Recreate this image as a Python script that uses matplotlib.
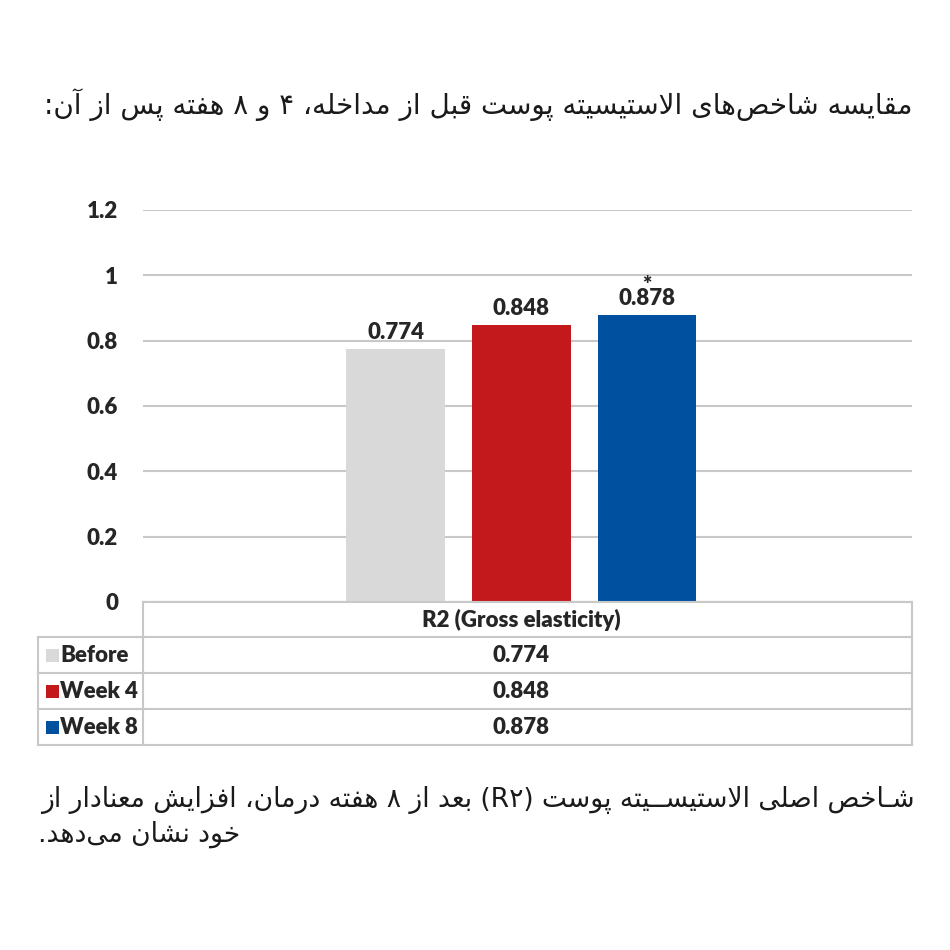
import re
import matplotlib
matplotlib.use("Agg")
import matplotlib.pyplot as plt
from matplotlib.patches import Rectangle
from matplotlib.transforms import blended_transform_factory

# data
metric = "R2 (Gross elasticity)"
groups = ["Before", "Week 4", "Week 8"]
values = [0.774, 0.848, 0.878]
marks = ["", "", "*"]
colors = ["#d9d9d9", "#c3191c", "#0050a0"]
yticks = [0, 0.2, 0.4, 0.6, 0.8, 1, 1.2]
ytick_labels = ["0", "0.2", "0.4", "0.6", "0.8", "1", "1.2"]

title = "مقایسه شاخص‌های الاستیسیته پوست قبل از مداخله، ۴ و ۸ هفته پس از آن:"
note_1 = "شـاخص اصلی الاستیســیته پوست (R۲) بعد از ۸ هفته درمان، افزایش معنادار از"
note_2 = "خود نشان می‌دهد."

# --- tiny arabic shaper: matplotlib has no shaping or bidi ---
DUAL = {
    "ب": (0xFE8F, 0xFE90, 0xFE91, 0xFE92), "ت": (0xFE95, 0xFE96, 0xFE97, 0xFE98),
    "ث": (0xFE99, 0xFE9A, 0xFE9B, 0xFE9C), "ج": (0xFE9D, 0xFE9E, 0xFE9F, 0xFEA0),
    "ح": (0xFEA1, 0xFEA2, 0xFEA3, 0xFEA4), "خ": (0xFEA5, 0xFEA6, 0xFEA7, 0xFEA8),
    "س": (0xFEB1, 0xFEB2, 0xFEB3, 0xFEB4), "ش": (0xFEB5, 0xFEB6, 0xFEB7, 0xFEB8),
    "ص": (0xFEB9, 0xFEBA, 0xFEBB, 0xFEBC), "ض": (0xFEBD, 0xFEBE, 0xFEBF, 0xFEC0),
    "ط": (0xFEC1, 0xFEC2, 0xFEC3, 0xFEC4), "ظ": (0xFEC5, 0xFEC6, 0xFEC7, 0xFEC8),
    "ع": (0xFEC9, 0xFECA, 0xFECB, 0xFECC), "غ": (0xFECD, 0xFECE, 0xFECF, 0xFED0),
    "ف": (0xFED1, 0xFED2, 0xFED3, 0xFED4), "ق": (0xFED5, 0xFED6, 0xFED7, 0xFED8),
    "ل": (0xFEDD, 0xFEDE, 0xFEDF, 0xFEE0), "م": (0xFEE1, 0xFEE2, 0xFEE3, 0xFEE4),
    "ن": (0xFEE5, 0xFEE6, 0xFEE7, 0xFEE8), "ه": (0xFEE9, 0xFEEA, 0xFEEB, 0xFEEC),
    "ک": (0xFB8E, 0xFB8F, 0xFB90, 0xFB91), "گ": (0xFB92, 0xFB93, 0xFB94, 0xFB95),
    "پ": (0xFB56, 0xFB57, 0xFB58, 0xFB59), "چ": (0xFB7A, 0xFB7B, 0xFB7C, 0xFB7D),
    "ی": (0xFBFC, 0xFBFD, 0xFBFE, 0xFBFF), "ئ": (0xFE89, 0xFE8A, 0xFE8B, 0xFE8C),
    "ـ": (0x0640, 0x0640, 0x0640, 0x0640),
}
RIGHT = {
    "ا": (0xFE8D, 0xFE8E), "آ": (0xFE81, 0xFE82), "د": (0xFEA9, 0xFEAA),
    "ذ": (0xFEAB, 0xFEAC), "ر": (0xFEAD, 0xFEAE), "ز": (0xFEAF, 0xFEB0),
    "ژ": (0xFB8A, 0xFB8B), "و": (0xFEED, 0xFEEE),
}
LAM_ALEF = {"ا": (0xFEFB, 0xFEFC), "آ": (0xFEF5, 0xFEF6)}


def shape(s):
    out = []
    i = 0
    while i < len(s):
        c = s[i]
        prev_j = i > 0 and s[i - 1] in DUAL
        nxt = s[i + 1] if i + 1 < len(s) else ""
        if c == "ل" and nxt in LAM_ALEF:
            out.append(chr(LAM_ALEF[nxt][1 if prev_j else 0]))
            i += 2
            continue
        if c in DUAL:
            next_j = nxt in DUAL or nxt in RIGHT
            f = DUAL[c][3 if prev_j and next_j else 1 if prev_j else 2 if next_j else 0]
            out.append(chr(f))
        elif c in RIGHT:
            out.append(chr(RIGHT[c][1 if prev_j else 0]))
        elif c != "\u200c":
            out.append(c)
        i += 1
    return "".join(out)


def rtl(s):
    s = shape(s)
    parts = re.findall(r"[A-Za-z0-9۰-۹]+|[^A-Za-z0-9۰-۹]", s)
    mirror = {"(": ")", ")": "("}
    return "".join(mirror.get(p, p) for p in reversed(parts))


fa_font = "DejaVu Sans"
num_font = {"family": "Lato", "weight": "heavy", "size": 16, "color": "#262626"}
grid_c = "#c8c8c8"

fig = plt.figure(figsize=(9.5, 9.5), dpi=100)
ax = fig.add_axes([143 / 950, 348 / 950, 769 / 950, 392 / 950])

step = 0.1635
width = 0.128
xs = [(k - 1) * step for k in range(len(groups))]
bars = ax.bar(xs, values, width=width, color=colors, zorder=2)
for x, v, m in zip(xs, values, marks):
    label = f"{m}\n{v:.3f}" if m else f"{v:.3f}"
    ax.text(x, v + 0.03, label, ha="center", va="baseline", ma="center",
            linespacing=0.55, fontdict=num_font)

ax.set_xlim(-0.492, 0.508)
ax.set_ylim(0, 1.2)
ax.set_yticks(yticks)
ax.set_yticklabels(ytick_labels, fontdict=num_font)
ax.set_xticks([])
ax.tick_params(axis="y", length=0, pad=18)
ax.yaxis.grid(True, color=grid_c, linewidth=1.5, zorder=0)
ax.set_axisbelow(True)
for sp in ax.spines.values():
    sp.set_visible(False)

# data table under the axis, in axes fractions
ta = ax.transAxes
def ay(py):
    return (602 - py) / 392

def axx(px):
    return (px - 143) / 769

rows_y = [ay(637), ay(673), ay(709), ay(745)]
left = axx(38)
line_kw = dict(color=grid_c, linewidth=1.5, transform=ta, clip_on=False)
ax.plot([0, 1], [0, 0], **line_kw)
for y in rows_y:
    ax.plot([left, 1], [y, y], **line_kw)
ax.plot([0, 0], [0, rows_y[-1]], **line_kw)
ax.plot([1, 1], [0, rows_y[-1]], **line_kw)
ax.plot([left, left], [rows_y[0], rows_y[-1]], **line_kw)

bt = blended_transform_factory(ax.transData, ta)
ax.text(0, (0 + rows_y[0]) / 2, metric, ha="center", va="center",
        transform=bt, fontdict=num_font, clip_on=False)
for k, (g, v, c) in enumerate(zip(groups, values, colors)):
    yc = (rows_y[k] + rows_y[k + 1]) / 2
    ax.add_patch(Rectangle((axx(46), yc - 6.5 / 392), 13 / 769, 13 / 392,
                           facecolor=c, edgecolor="none", transform=ta, clip_on=False))
    ax.text(axx(60), yc, g, ha="left", va="center", transform=ta,
            fontdict=num_font, clip_on=False)
    ax.text(0, yc, f"{v:.3f}", ha="center", va="center", transform=bt,
            fontdict=num_font, clip_on=False)

fig.text(912 / 950, 1 - 105 / 950, rtl(title), ha="right", va="center",
         family=fa_font, fontsize=20, color="#1a1a1a")
fig.text(915 / 950, 1 - 800 / 950, rtl(note_1), ha="right", va="center",
         family=fa_font, fontsize=19.1, color="#1a1a1a")
fig.text(38 / 950, 1 - 834 / 950, rtl(note_2), ha="left", va="center",
         family=fa_font, fontsize=19.1, color="#1a1a1a")

fig.savefig("out.png", dpi=100, facecolor="white")
